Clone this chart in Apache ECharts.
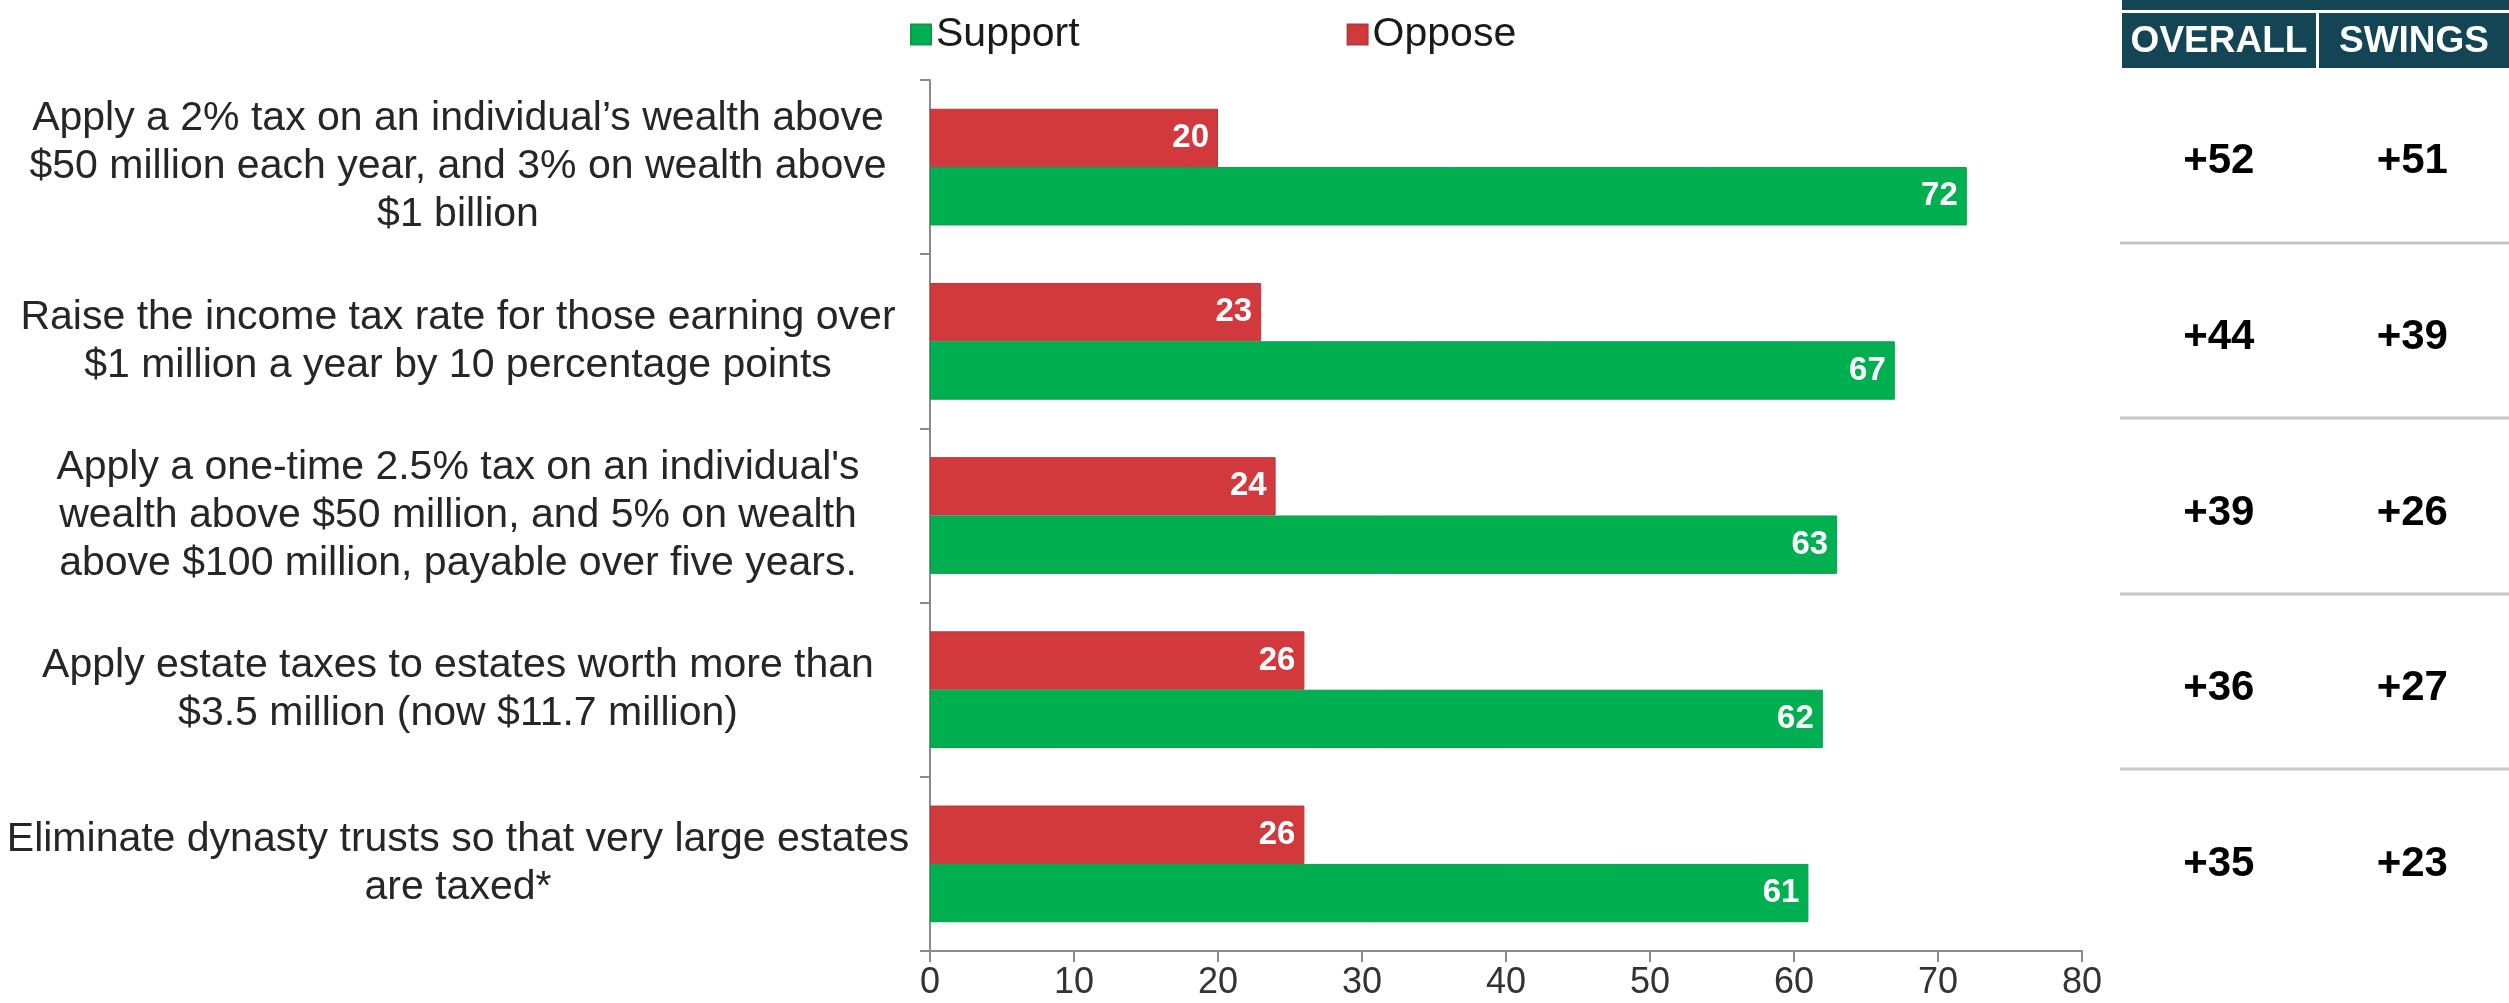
<!DOCTYPE html>
<html>
<head>
<meta charset="utf-8">
<script src="https://cdn.jsdelivr.net/npm/echarts@6/dist/echarts.min.js"></script>
<style>
  html, body { margin: 0; padding: 0; background: #ffffff; }
  #chart { width: 2509px; height: 1003px; }
</style>
</head>
<body>
<div id="chart"></div>
<script>
// Survey items (top to bottom)
const questions = [
  'Apply a 2% tax on an individual\u2019s wealth above\n$50 million each year, and 3% on wealth above\n$1 billion',
  'Raise the income tax rate for those earning over\n$1 million a year by 10 percentage points',
  'Apply a one-time 2.5% tax on an individual\'s\nwealth above $50 million, and 5% on wealth\nabove $100 million, payable over five years.',
  'Apply estate taxes to estates worth more than\n$3.5 million (now $11.7 million)',
  'Eliminate dynasty trusts so that very large estates\nare taxed*'
];

// Percent support / oppose
const supportValues = [72, 67, 63, 62, 61];
const opposeValues = [20, 23, 24, 26, 26];

// Net support columns
const tableHeaders = ['OVERALL', 'SWINGS'];
const overallNet = [52, 44, 39, 36, 35];
const swingsNet = [51, 39, 26, 27, 23];

// Value axis ticks
const axisMin = 0;
const axisMax = 80;
const axisStep = 10;

const FONT = '"Liberation Sans", Arial, Helvetica, sans-serif';
const GREEN = '#00b050';
const RED = '#d2393d';
const HEADER_BG = '#144554';

const chart = echarts.init(document.getElementById('chart'), null, { renderer: 'canvas' });

const valueLabel = {
  show: true,
  position: 'insideRight',
  distance: 9,
  color: '#ffffff',
  fontFamily: FONT,
  fontWeight: 'bold',
  fontSize: 33
};

const option = {
  backgroundColor: '#ffffff',
  animation: false,
  legend: {
    data: ['Support', 'Oppose'],
    left: 905,
    top: 9,
    itemWidth: 20,
    itemHeight: 20,
    itemGap: 267,
    icon: 'rect',
    textStyle: { fontFamily: FONT, fontSize: 41, color: '#1a1a1a' }
  },
  grid: [
    { left: 930, right: 427, top: 80, bottom: 52, containLabel: false },
    { left: 2122, width: 387, top: 69, height: 878, containLabel: false }
  ],
  xAxis: [
    {
      gridIndex: 0,
      type: 'value',
      min: axisMin,
      max: axisMax,
      interval: axisStep,
      axisLine: { show: true, lineStyle: { color: '#8a8a8a', width: 2 } },
      axisTick: { show: true, length: 11, lineStyle: { color: '#8a8a8a', width: 2 } },
      axisLabel: { fontFamily: FONT, fontSize: 36, color: '#333333', margin: 14 },
      splitLine: { show: false }
    },
    { gridIndex: 1, type: 'value', min: 0, max: 2, show: false }
  ],
  yAxis: [
    {
      gridIndex: 0,
      type: 'category',
      inverse: true,
      data: questions,
      axisLine: { show: true, lineStyle: { color: '#8a8a8a', width: 2 } },
      axisTick: { show: true, length: 10, lineStyle: { color: '#8a8a8a', width: 2 } },
      axisLabel: {
        fontFamily: FONT,
        fontSize: 41,
        lineHeight: 48,
        color: '#262626',
        align: 'center',
        margin: 472
      }
    },
    {
      gridIndex: 1,
      type: 'category',
      inverse: true,
      data: questions.map((q, i) => String(i)),
      show: false
    }
  ],
  graphic: [
    { type: 'rect', shape: { x: 2122, y: 0, width: 387, height: 10 }, style: { fill: HEADER_BG }, z: 10 },
    { type: 'rect', shape: { x: 2122, y: 13, width: 194, height: 55 }, style: { fill: HEADER_BG }, z: 10 },
    { type: 'rect', shape: { x: 2319, y: 13, width: 190, height: 55 }, style: { fill: HEADER_BG }, z: 10 },
    {
      type: 'text', z: 11,
      style: { x: 2219, y: 42, text: tableHeaders[0], align: 'center', verticalAlign: 'middle',
               font: 'bold 37px ' + FONT, fill: '#ffffff' }
    },
    {
      type: 'text', z: 11,
      style: { x: 2414, y: 42, text: tableHeaders[1], align: 'center', verticalAlign: 'middle',
               font: 'bold 37px ' + FONT, fill: '#ffffff' }
    }
  ],
  series: [
    {
      name: 'Oppose',
      type: 'bar',
      xAxisIndex: 0,
      yAxisIndex: 0,
      data: opposeValues,
      barGap: '0%',
      barCategoryGap: '33%',
      itemStyle: { color: RED, borderColor: '#b8373a', borderWidth: 1 },
      label: valueLabel
    },
    {
      name: 'Support',
      type: 'bar',
      xAxisIndex: 0,
      yAxisIndex: 0,
      data: supportValues,
      barGap: '0%',
      barCategoryGap: '33%',
      itemStyle: { color: GREEN, borderColor: '#0a9a4a', borderWidth: 1 },
      label: valueLabel
    },
    {
      // Net support table: one row per item, laid out on the second grid
      name: 'Net',
      type: 'custom',
      xAxisIndex: 1,
      yAxisIndex: 1,
      encode: { y: 0, x: 1 },
      data: questions.map((q, i) => [i, overallNet[i], swingsNet[i]]),
      renderItem: function (params, api) {
        const row = api.value(0);
        const pA = api.coord([0.5, row]);
        const pB = api.coord([1.5, row]);
        const band = api.size([0, 1])[1];
        const cs = params.coordSys;
        const font = 'bold 42px ' + FONT;
        const textY = pA[1] + 5;
        const children = [
          { type: 'text', style: { x: pA[0], y: textY, text: '+' + api.value(1), align: 'center',
                                   verticalAlign: 'middle', font: font, fill: '#000000' } },
          { type: 'text', style: { x: pB[0], y: textY, text: '+' + api.value(2), align: 'center',
                                   verticalAlign: 'middle', font: font, fill: '#000000' } }
        ];
        if (row < questions.length - 1) {
          const yLine = Math.round(pA[1] + band / 2) - 2;
          children.push({
            type: 'line',
            shape: { x1: cs.x - 2, y1: yLine, x2: cs.x + cs.width, y2: yLine },
            style: { stroke: '#c8c8c8', lineWidth: 3 }
          });
        }
        return { type: 'group', children: children };
      }
    }
  ]
};

chart.setOption(option);
</script>
</body>
</html>
